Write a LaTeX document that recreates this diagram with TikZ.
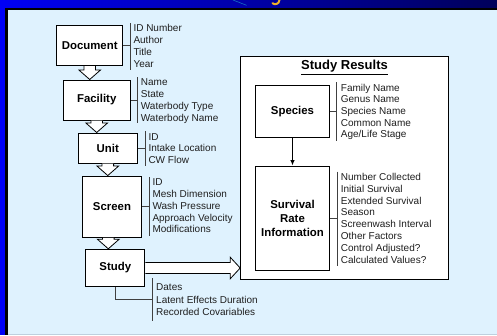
\documentclass[tikz,border=0pt]{standalone}
\usepackage{fontspec}
\setmainfont{Liberation Sans}
\usetikzlibrary{calc,arrows.meta}
\definecolor{panel}{RGB}{223,242,254}
\definecolor{edgeline}{RGB}{190,208,222}
\definecolor{topblue}{RGB}{0,0,245}
\definecolor{navy}{RGB}{0,0,90}
\definecolor{gold}{RGB}{240,176,40}
\newcommand\hollowdown[3]{%
  \draw[hollow] let \p1=($(#2.south)+(#1,0)$), \p2=(#3.north) in
    (\x1-5.8pt,\y1) -- (\x1-5.8pt,\y2+9.5pt) -- (\x1-10.8pt,\y2+9.5pt) -- (\x1,\y2)
    -- (\x1+10.8pt,\y2+9.5pt) -- (\x1+5.8pt,\y2+9.5pt) -- (\x1+5.8pt,\y1);}
\begin{document}
\begin{tikzpicture}[x=1pt,y=-1pt,
  box/.style={draw=black, fill=white, line width=1pt, inner sep=0pt, align=center,
    font=\bfseries\fontsize{11.4}{14}\selectfont},
  item/.style={anchor=base west, inner sep=0pt, text=black!88,
    font=\fontsize{10}{12}\selectfont},
  bracket/.style={draw=black!75, line width=0.8pt},
  hollow/.style={draw=black, fill=white, line width=0.8pt, line join=miter}]
\useasboundingbox (0,0) rectangle (497,335);
% background
\shade[left color=topblue, right color=navy] (0,0) rectangle (497,9);
\fill[topblue] (0,0) rectangle (5,335);
\fill[black] (5,7.5) rectangle (497,9.5);
\fill[black] (4.5,7.5) rectangle (7.5,335);
\fill[panel] (7.5,9.5) rectangle (497,335);
\fill[edgeline] (7.5,333.5) rectangle (497,335);
\draw[cyan!50!blue, line width=0.6pt] (233,0) -- (246.5,5.3);
\draw[gold, line width=2pt, line cap=round] (279.5,0) .. controls (279,4.5) and (274.5,5) .. (272.5,3.2);

% left chain boxes
\node[box, minimum width=66pt, minimum height=39.7pt] (doc) at (89.7,45.8) {Document};
\node[box, minimum width=66.7pt, minimum height=40pt] (fac) at (96.7,100) {Facility};
\node[box, minimum width=59pt, minimum height=30pt] (unit) at (107.8,148) {Unit};
\node[box, minimum width=59.4pt, minimum height=61.3pt] (scr) at (112,206.7) {Screen};
\node[box, minimum width=59.3pt, minimum height=37.4pt] (study) at (115.3,268) {Study};

% hollow arrows
\hollowdown{0pt}{doc}{fac}
\hollowdown{0pt}{fac}{unit}
\hollowdown{0pt}{unit}{scr}
\hollowdown{-3.7pt}{scr}{study}

% results panel
\node[draw=black, fill=white, line width=1pt, inner sep=0pt,
  minimum width=207.6pt, minimum height=223.3pt] (results) at (344.5,167.65) {};
\node[inner sep=0pt, font=\bfseries\fontsize{13}{15}\selectfont] (rtitle) at (344.5,67.5) {\underline{Study Results}};
\node[box, minimum width=73.6pt, minimum height=51.6pt] (species) at (292.5,111.5) {Species};
\node[box, minimum width=73.6pt, minimum height=104pt] (surv) at (292.5,218) {Survival\\Rate\\Information};
\draw[line width=0.9pt, -{Latex[length=5.5pt,width=4.5pt]}] (species) -- (surv);

% big hollow arrow
\draw[hollow] let \p1=(study.east), \p2=(results.west) in
  (\x1,\y1+5.5pt) -- (\x2-10pt,\y1+5.5pt) -- (\x2-10pt,\y1+10.8pt) -- (\x2,\y1)
  -- (\x2-10pt,\y1-10.8pt) -- (\x2-10pt,\y1-5.5pt) -- (\x1,\y1-5.5pt);

% brackets
\coordinate (docbt) at (130,23);   \coordinate (docbb) at (130,70);
\coordinate (facbt) at (137.3,77); \coordinate (facbb) at (137.3,123);
\coordinate (unibt) at (145,131);  \coordinate (unibb) at (145,166);
\coordinate (scrbt) at (149,177);  \coordinate (scrbb) at (149,236);
\coordinate (stubt) at (152.3,278);\coordinate (stubb) at (152.3,320.7);
\coordinate (stubm) at (152.3,299);
\coordinate (spebt) at (336.7,82.3); \coordinate (spebb) at (336.7,140.7);
\coordinate (surbt) at (337.3,171.7);\coordinate (surbb) at (337.3,266);
\draw[bracket] (docbt) -- (docbb) (doc.east) -- (doc.east -| docbt);
\draw[bracket] (facbt) -- (facbb) (fac.east) -- (fac.east -| facbt);
\draw[bracket] (unibt) -- (unibb) (unit.east) -- (unit.east -| unibt);
\draw[bracket] (scrbt) -- (scrbb) (scr.east) -- (scr.east -| scrbt);
\draw[bracket] (stubt) -- (stubb) (study.south) |- (stubm);
\draw[bracket] (spebt) -- (spebb) (species.east) -- (species.east -| spebt);
\draw[bracket] (surbt) -- (surbb) (surv.east) -- (surv.east -| surbt);

% attribute lists
\foreach \t [count=\i] in {ID Number, Author, Title, Year}
  \node[item] (docl\i) at (133.3, 31.8+12*\i-12) {\t};
\foreach \t [count=\i] in {Name, State, Waterbody Type, Waterbody Name}
  \node[item] (facl\i) at (140.7, 85.8+11.85*\i-11.85) {\t};
\foreach \t [count=\i] in {ID, Intake Location, CW Flow}
  \node[item] (unil\i) at (148.3, 140.2+11.6*\i-11.6) {\t};
\foreach \t [count=\i] in {ID, Mesh Dimension, Wash Pressure, Approach Velocity, Modifications}
  \node[item] (scrl\i) at (152.3, 185.8+11.75*\i-11.75) {\t};
\foreach \t [count=\i] in {Dates, Latent Effects Duration, Recorded Covariables}
  \node[item] (stul\i) at (156, 290.8+12.2*\i-12.2) {\t};
\foreach \t [count=\i] in {Family Name, Genus Name, Species Name, Common Name, Age/Life Stage}
  \node[item] (spel\i) at (340.7, 91.2+11.67*\i-11.67) {\t};
\foreach \t [count=\i] in {Number Collected, Initial Survival, Extended Survival, Season, Screenwash Interval, Other Factors, Control Adjusted?, Calculated Values?}
  \node[item] (surl\i) at (340.7, 180.2+11.9*\i-11.9) {\t};
\end{tikzpicture}
\end{document}
